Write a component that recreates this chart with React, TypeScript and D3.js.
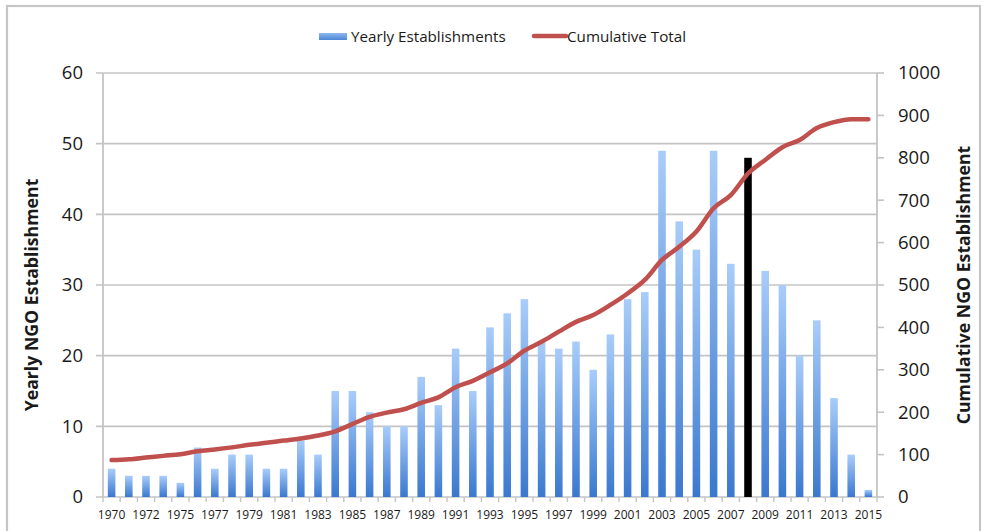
import React from "react";
import * as d3 from "d3";

// Year categories (1974 has no entry in the source table)
const years: number[] = [
  1970, 1971, 1972, 1973, 1975, 1976, 1977, 1978, 1979, 1980, 1981, 1982, 1983,
  1984, 1985, 1986, 1987, 1988, 1989, 1990, 1991, 1992, 1993, 1994, 1995, 1996,
  1997, 1998, 1999, 2000, 2001, 2002, 2003, 2004, 2005, 2006, 2007, 2008, 2009,
  2010, 2011, 2012, 2013, 2014, 2015,
];

// NGOs established in each year
const yearly: number[] = [
  4, 3, 3, 3, 2, 7, 4, 6, 6, 4, 4, 8, 6,
  15, 15, 12, 10, 10, 17, 13, 21, 15, 24, 26, 28, 22,
  21, 22, 18, 23, 28, 29, 49, 39, 35, 49, 33, 48, 32,
  30, 20, 25, 14, 6, 1,
];

// Running total of NGOs
const cumulative: number[] = [
  87, 89, 93, 97, 101, 108, 112, 117, 123, 128, 133, 138, 145,
  155, 172, 189, 199, 207, 222, 235, 259, 274, 294, 315, 345, 366,
  390, 413, 429, 453, 480, 512, 559, 590, 626, 681, 712, 763, 795,
  825, 842, 870, 884, 891, 891,
];

const highlightYear = 2008;
const leftTicks: number[] = [0, 10, 20, 30, 40, 50, 60];
const rightTicks: number[] = [0, 100, 200, 300, 400, 500, 600, 700, 800, 900, 1000];

const W = 984;
const H = 531;
const plot = { left: 103, right: 877, top: 73, bottom: 497 };
const FONT = "'Open Sans', 'DejaVu Sans', sans-serif";
const GRID = "#c4c4c4";
const TEXT = "#1a1a1a";

export default function App() {
  const cats = years.map(String);
  const x = d3
    .scaleBand<string>()
    .domain(cats)
    .range([plot.left, plot.right])
    .paddingInner(0.56)
    .paddingOuter(0.28);
  const yL = d3.scaleLinear().domain([0, 60]).range([plot.bottom, plot.top]);
  const yR = d3.scaleLinear().domain([0, 1000]).range([plot.bottom, plot.top]);
  const cx = (c: string) => (x(c) as number) + x.bandwidth() / 2;
  const step = x.step();

  const line = d3
    .line<number>()
    .x((_, i) => cx(cats[i]))
    .y((d) => yR(d))
    .curve(d3.curveMonotoneX);

  const boundaries = d3.range(cats.length + 1).map((i) => plot.left + i * step);

  return (
    <svg
      width={W}
      height={H}
      style={{ position: "absolute", left: 0, top: 0, background: "#fff" }}
      fontFamily={FONT}
    >
      <defs>
        <linearGradient id="barFill" x1="0" y1="0" x2="0" y2="1">
          <stop offset="0%" stopColor="#a9cdfa" />
          <stop offset="100%" stopColor="#3a78cf" />
        </linearGradient>
        <linearGradient id="legendFill" x1="0" y1="0" x2="0" y2="1">
          <stop offset="0%" stopColor="#8fb9f0" />
          <stop offset="100%" stopColor="#4a86d6" />
        </linearGradient>
      </defs>
      <rect x={0} y={0} width={W} height={H} fill="#fff" />
      {/* chart frame */}
      <rect x={7} y={6} width={973} height={H + 10} fill="none" stroke="#c6c6c6" strokeWidth={2.2} />

      {/* legend */}
      <g>
        <rect x={319} y={33} width={28} height={7} fill="url(#legendFill)" />
        <text x={351} y={42} fontSize={15.2} fill={TEXT}>Yearly Establishments</text>
        <line x1={534} x2={566} y1={36} y2={36} stroke="#c0504d" strokeWidth={4.5} strokeLinecap="round" />
        <text x={567} y={42} fontSize={15.2} fill={TEXT}>Cumulative Total</text>
      </g>

      {/* gridlines and left ticks */}
      {leftTicks.map((t) => (
        <line key={"g" + t} x1={96} x2={plot.right} y1={yL(t)} y2={yL(t)} stroke={GRID} strokeWidth={1.6} />
      ))}
      {leftTicks.map((t) => (
        <text key={"l" + t} x={83} y={yL(t)} dy="0.35em" textAnchor="end" fontSize={18.5} fill={TEXT}>
          {t}
        </text>
      ))}
      {/* right ticks */}
      {rightTicks.map((t) => (
        <line key={"rt" + t} x1={plot.right} x2={884} y1={yR(t)} y2={yR(t)} stroke={GRID} strokeWidth={1.6} />
      ))}
      {rightTicks.map((t) => (
        <text key={"r" + t} x={898} y={yR(t)} dy="0.35em" textAnchor="start" fontSize={18.5} fill={TEXT}>
          {t}
        </text>
      ))}

      {/* axis lines */}
      <line x1={plot.left} x2={plot.left} y1={plot.top} y2={plot.bottom} stroke={GRID} strokeWidth={1.8} />
      <line x1={plot.right} x2={plot.right} y1={plot.top} y2={plot.bottom} stroke={GRID} strokeWidth={1.8} />

      {/* x ticks */}
      {boundaries.map((bx, i) => (
        <line key={"xt" + i} x1={bx} x2={bx} y1={plot.bottom} y2={plot.bottom + 5} stroke={GRID} strokeWidth={1.4} />
      ))}

      {/* bars */}
      {cats.map((c, i) => (
        <rect
          key={"b" + c}
          x={x(c)}
          y={yL(yearly[i])}
          width={x.bandwidth()}
          height={plot.bottom - yL(yearly[i])}
          fill={years[i] === highlightYear ? "#000" : "url(#barFill)"}
        />
      ))}

      {/* cumulative line */}
      <path d={line(cumulative) || ""} fill="none" stroke="#c0504d" strokeWidth={4.5} strokeLinecap="round" strokeLinejoin="round" />

      {/* x labels */}
      {cats.map((c, i) =>
        i % 2 === 0 ? (
          <text key={"xl" + c} x={cx(c)} y={519} textAnchor="middle" fontSize={12} fill={TEXT}>
            {c}
          </text>
        ) : null
      )}

      {/* axis titles */}
      <text
        transform={`translate(38, 295) rotate(-90)`}
        textAnchor="middle"
        fontSize={17.7}
        fontWeight="bold"
        fill={TEXT}
      >
        Yearly NGO Establishment
      </text>
      <text
        transform={`translate(970, 285) rotate(-90)`}
        textAnchor="middle"
        fontSize={17.7}
        fontWeight="bold"
        fill={TEXT}
      >
        Cumulative NGO Establishment
      </text>
    </svg>
  );
}
